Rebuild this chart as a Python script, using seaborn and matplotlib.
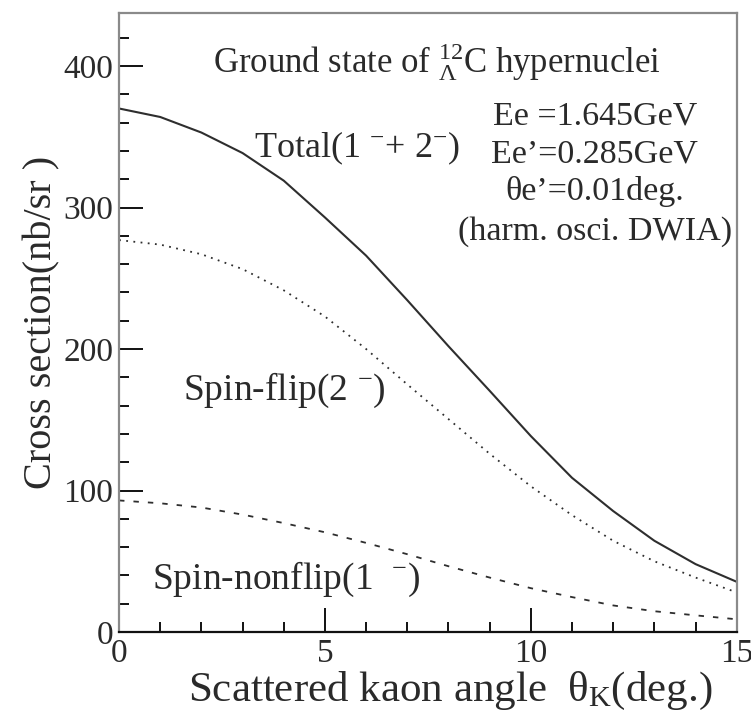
import numpy as np
import pandas as pd
import matplotlib
matplotlib.use("Agg")
import matplotlib.pyplot as plt
import seaborn as sns
from matplotlib.ticker import MultipleLocator

# =========================
# Werte
# =========================
theta_k = [0, 1, 2, 3, 4, 5, 6, 7, 8, 9, 10, 11, 12, 13, 14, 15]
total = [370, 364, 353, 338.5, 319, 293, 266, 234.5, 202, 170.5, 138.5, 109, 85.5, 64.5, 48, 35.5]
spin_flip = [277, 273.8, 267, 256.5, 241.5, 223, 200, 175, 150.5, 126, 103, 82.6, 64.5, 50, 38.5, 28]
spin_nonflip = [93, 91, 88, 83, 77, 70.5, 63, 55, 46.5, 38.5, 31, 24.7, 18.8, 14.7, 11.8, 9]

x_ticks = [0, 5, 10, 15]
y_ticks = [0, 100, 200, 300, 400]

sns.set_style("ticks")
plt.rcParams['font.family'] = ['Liberation Serif', 'DejaVu Serif']
plt.rcParams['mathtext.fontset'] = 'custom'
plt.rcParams['mathtext.rm'] = 'Liberation Serif'
plt.rcParams['mathtext.it'] = 'Liberation Serif'

txt = '#2a2a2a'
line_c = '#2e2e2e'

fig = plt.figure(figsize=(7.51, 7.17), dpi=100)
ax = fig.add_axes([0.1585, 0.1185, 0.8225, 0.8634])

sns.lineplot(x=theta_k, y=total, ax=ax, color=line_c, linewidth=1.5, linestyle='-')
sns.lineplot(x=theta_k, y=spin_flip, ax=ax, color=line_c, linewidth=1.3, linestyle=(0, (1, 3)))
sns.lineplot(x=theta_k, y=spin_nonflip, ax=ax, color=line_c, linewidth=1.3, linestyle=(0, (3, 5)))

ax.set_xlim(0, 15)
ax.set_ylim(0, 437.5)
ax.set_xticks(x_ticks)
ax.set_yticks(y_ticks)
ax.xaxis.set_minor_locator(MultipleLocator(1))
ax.yaxis.set_minor_locator(MultipleLocator(20))
ax.tick_params(which='both', direction='in', top=False, right=False, colors='#111', width=1.4)
ax.tick_params(which='major', length=17, labelsize=24, labelcolor=txt)
ax.tick_params(which='minor', length=7)
ax.tick_params(axis='y', pad=4)
ax.tick_params(axis='x', pad=5)

for side in ['top', 'right', 'left']:
    ax.spines[side].set_color('#8a8a8a')
    ax.spines[side].set_linewidth(1.6)
ax.spines['bottom'].set_color('#111')
ax.spines['bottom'].set_linewidth(1.6)

ax.set_xlabel(r'Scattered kaon angle  $\theta_{\mathrm{K}}$(deg.)', fontsize=31, color=txt,
              verticalalignment='center')
ax.xaxis.set_label_coords(0.537, -0.096)
ax.set_ylabel('Cross section(nb/sr )', fontsize=29, color=txt, labelpad=2)

# Beschriftungen
ax.text(2.29, 403, r'Ground state of $^{12}_{\Lambda}$C hypernuclei', fontsize=25, color=txt, va='center')
ax.text(3.28, 342, r'Total(1 $^{-}$+ 2$^{-}$)', fontsize=26, color=txt, va='center')
ax.text(11.55, 364.5, 'Ee =1.645GeV', fontsize=24.5, color=txt, va='center', ha='center')
ax.text(11.55, 338, 'Ee’=0.285GeV', fontsize=24.5, color=txt, va='center', ha='center')
ax.text(11.55, 311, 'θe’=0.01deg.', fontsize=24.5, color=txt, va='center', ha='center')
ax.text(11.55, 283, '(harm. osci. DWIA)', fontsize=24.5, color=txt, va='center', ha='center')
ax.text(1.56, 171, r'Spin-flip(2 $^{-}$)', fontsize=27, color=txt, va='center')
ax.text(0.8, 37, r'Spin-nonflip(1  $^{-}$)', fontsize=27, color=txt, va='center')

fig.savefig('out.png', dpi=100)
plt.close(fig)
